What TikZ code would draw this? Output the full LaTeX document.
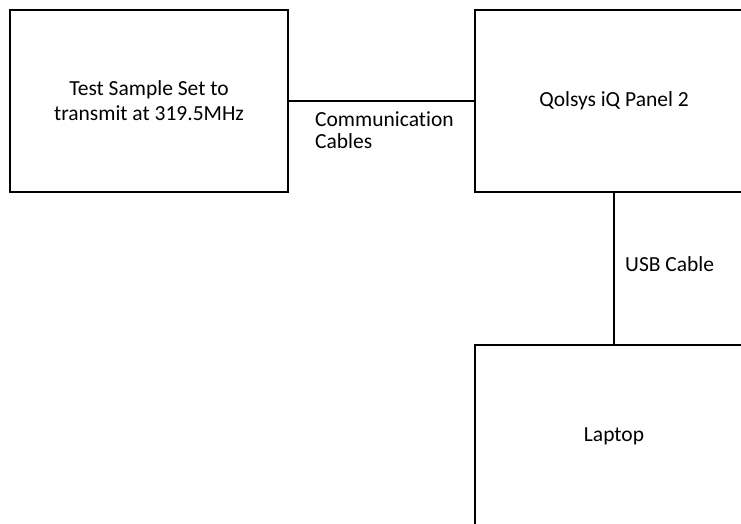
\documentclass[tikz,border=0pt]{standalone}
\usepackage{fontspec}
\setmainfont{Carlito}[Ligatures=NoCommon]
\usetikzlibrary{positioning}

\begin{document}
\begin{tikzpicture}[x=1pt,y=-1pt,font=\fontsize{21.5}{25}\selectfont,
box/.style={draw,line width=1.3pt,minimum width=278pt,minimum height=182pt,align=center,inner sep=0pt},
lbl/.style={align=left,inner sep=0pt,font=\fontsize{21.5}{22}\selectfont},
conn/.style={line width=1.3pt}]
\useasboundingbox (0,0) rectangle (741,523);
\clip (0,0) rectangle (741,523);
\node[box] (sample) at (149,101) {Test Sample Set to\\transmit at 319.5MHz};
\node[box] (panel) at (614,101) {Qolsys iQ Panel 2};
\node[box] (laptop) at (614,436) {Laptop};
\draw[conn] (sample.east)--(panel.west);
\draw[conn] (panel.south)--(laptop.north);
\node[lbl,anchor=base west] (comm) at (315,148) {Communication\\Cables};
\node[lbl,anchor=base west] (usb) at (625,271) {USB Cable};
\end{tikzpicture}
\end{document}
